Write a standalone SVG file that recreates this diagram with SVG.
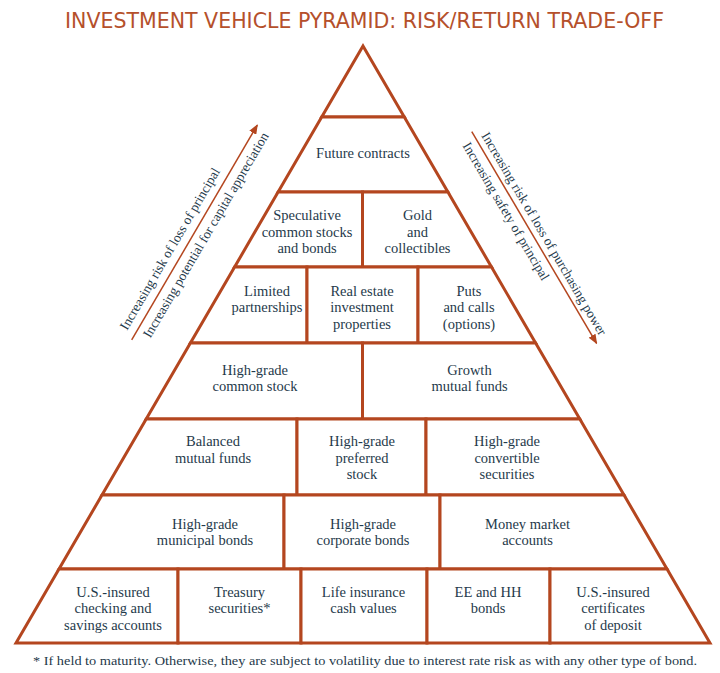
<svg xmlns="http://www.w3.org/2000/svg" width="720" height="673" viewBox="0 0 720 673">
<defs>
<style>
.cell{fill:#ffffff;stroke:#b4461f;stroke-width:3;stroke-linejoin:miter}
.t{font-family:"Liberation Serif","Times New Roman",serif;font-size:14.5px;fill:#1f3a4b;text-anchor:middle}
.at{font-family:"Liberation Serif","Times New Roman",serif;font-size:13.5px;fill:#1f3a4b;text-anchor:middle}
.arr{stroke:#b4461f;stroke-width:1.5;fill:none}
</style>
<marker id="ah" markerUnits="userSpaceOnUse" markerWidth="10" markerHeight="8" refX="9" refY="4" orient="auto">
<path d="M0,0 L10,4 L0,8 Z" fill="#b4461f"/>
</marker>
</defs>
<rect width="720" height="673" fill="#ffffff"/>
<text x="364.5" y="28" textLength="599" lengthAdjust="spacingAndGlyphs" style="font-family:'Liberation Sans Narrow','DejaVu Sans Condensed','Liberation Sans',sans-serif;font-size:22px;fill:#b5502b;text-anchor:middle">INVESTMENT VEHICLE PYRAMID: RISK/RETURN TRADE-OFF</text>

<g id="apex"><polygon class="cell" points="363,46 404.3,117 321.7,117"/></g>
<g id="future"><polygon class="cell" points="321.7,117 404.3,117 447.9,192 278.1,192"/><text class="t" x="363" y="158">Future contracts</text></g>

<g id="speculative"><polygon class="cell" points="278.1,192 362.5,192 362.5,267 234.6,267"/><text class="t" x="307" y="220">Speculative</text><text class="t" x="307" y="236.5">common stocks</text><text class="t" x="307" y="253">and bonds</text></g>
<g id="gold"><polygon class="cell" points="362.5,192 447.9,192 491.5,267 362.5,267"/><text class="t" x="417.5" y="220">Gold</text><text class="t" x="417.5" y="236.5">and</text><text class="t" x="417.5" y="253">collectibles</text></g>

<g id="limited"><polygon class="cell" points="234.6,267 307,267 307,343 190.4,343"/><text class="t" x="267" y="295.5">Limited</text><text class="t" x="267" y="312">partnerships</text></g>
<g id="realestate"><polygon class="cell" points="307,267 418,267 418,343 307,343"/><text class="t" x="362" y="295.5">Real estate</text><text class="t" x="362" y="312">investment</text><text class="t" x="362" y="328.5">properties</text></g>
<g id="puts"><polygon class="cell" points="418,267 491.5,267 535.6,343 418,343"/><text class="t" x="469" y="295.5">Puts</text><text class="t" x="469" y="312">and calls</text><text class="t" x="469" y="328.5">(options)</text></g>

<g id="hgcommon"><polygon class="cell" points="190.4,343 362.5,343 362.5,419 146.2,419"/><text class="t" x="255" y="374.5">High-grade</text><text class="t" x="255" y="391">common stock</text></g>
<g id="growth"><polygon class="cell" points="362.5,343 535.6,343 579.8,419 362.5,419"/><text class="t" x="469.5" y="374.5">Growth</text><text class="t" x="469.5" y="391">mutual funds</text></g>

<g id="balanced"><polygon class="cell" points="146.2,419 297,419 297,495 102,495"/><text class="t" x="213" y="446">Balanced</text><text class="t" x="213" y="462.5">mutual funds</text></g>
<g id="preferred"><polygon class="cell" points="297,419 426,419 426,495 297,495"/><text class="t" x="362" y="446">High-grade</text><text class="t" x="362" y="462.5">preferred</text><text class="t" x="362" y="479">stock</text></g>
<g id="convertible"><polygon class="cell" points="426,419 579.8,419 624,495 426,495"/><text class="t" x="507" y="446">High-grade</text><text class="t" x="507" y="462.5">convertible</text><text class="t" x="507" y="479">securities</text></g>

<g id="municipal"><polygon class="cell" points="102,495 284,495 284,569 59,569"/><text class="t" x="205" y="528.5">High-grade</text><text class="t" x="205" y="545">municipal bonds</text></g>
<g id="corporate"><polygon class="cell" points="284,495 440,495 440,569 284,569"/><text class="t" x="363" y="528.5">High-grade</text><text class="t" x="363" y="545">corporate bonds</text></g>
<g id="moneymarket"><polygon class="cell" points="440,495 624,495 667,569 440,569"/><text class="t" x="527.5" y="528.5">Money market</text><text class="t" x="527.5" y="545">accounts</text></g>

<g id="checking"><polygon class="cell" points="59,569 178,569 178,643 16,643"/><text class="t" x="113" y="596.5">U.S.-insured</text><text class="t" x="113" y="613">checking and</text><text class="t" x="113" y="629.5">savings accounts</text></g>
<g id="treasury"><polygon class="cell" points="178,569 301,569 301,643 178,643"/><text class="t" x="239.5" y="596.5">Treasury</text><text class="t" x="239.5" y="613">securities*</text></g>
<g id="lifeins"><polygon class="cell" points="301,569 427,569 427,643 301,643"/><text class="t" x="363.5" y="596.5">Life insurance</text><text class="t" x="363.5" y="613">cash values</text></g>
<g id="eehh"><polygon class="cell" points="427,569 550,569 550,643 427,643"/><text class="t" x="488" y="596.5">EE and HH</text><text class="t" x="488" y="613">bonds</text></g>
<g id="cd"><polygon class="cell" points="550,569 667,569 710,643 550,643"/><text class="t" x="613" y="596.5">U.S.-insured</text><text class="t" x="613" y="613">certificates</text><text class="t" x="613" y="629.5">of deposit</text></g>

<g id="connectors">
<g transform="translate(194.5,232.5) rotate(-59.7)">
<line class="arr" x1="-124.5" y1="0" x2="124.5" y2="0" marker-end="url(#ah)"/>
<text class="at" x="-26.6" y="-8.5">Increasing risk of loss of principal</text>
<text class="at" x="3.6" y="15.5">Increasing potential for capital appreciation</text>
</g>
<g transform="translate(534.2,237.5) rotate(59.5)">
<line class="arr" x1="-123" y1="0" x2="123" y2="0" marker-end="url(#ah)"/>
<text class="at" x="1.8" y="-6">Increasing risk of loss of purchasing power</text>
<text class="at" x="-36.9" y="15.4">Increasing safety of principal</text>
</g>
</g>

<text x="365" y="665" textLength="664" lengthAdjust="spacingAndGlyphs" style="font-family:'Liberation Serif','Times New Roman',serif;font-size:13px;fill:#1f3a4b;text-anchor:middle">* If held to maturity. Otherwise, they are subject to volatility due to interest rate risk as with any other type of bond.</text>
</svg>
